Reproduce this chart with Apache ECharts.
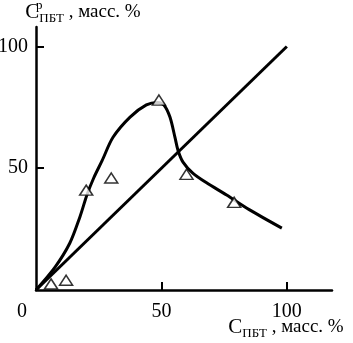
<!DOCTYPE html>
<html>
<head>
<meta charset="utf-8">
<script src="https://cdn.jsdelivr.net/npm/echarts@6/dist/echarts.min.js"></script>
<style>
html, body { margin: 0; padding: 0; background: #fff; }
#chart { width: 353px; height: 343px; }
</style>
</head>
<body>
<div id="chart"></div>
<script>
// measured points (triangles)
var expX = [6, 12, 20, 30, 49, 60, 79];
var expY = [2.5, 4, 41, 46, 78, 47.5, 36];

// fitted curve
var curveX = [0, 7.6, 13.5, 17.5, 20.3, 23, 26.3, 30.7, 37.5, 44, 48.5, 51, 53.4, 55.4, 56.6, 58.6, 62.5, 68, 76, 85, 98];
var curveY = [0, 9.4, 19.3, 30, 39, 46, 53, 62.7, 71, 76, 77, 76, 71, 62.7, 57.4, 52.5, 48, 44, 39, 33, 25.4];

// diagonal y = x
var diagX = [0, 100];
var diagY = [0, 100];

var xTicks = [50, 100];
var xLabels = [0, 50, 100];
var yTicks = [50, 100];

function pairs(xs, ys) {
    var out = [];
    for (var i = 0; i < xs.length; i++) {
        out.push([xs[i], ys[i]]);
    }
    return out;
}

var font = '"Liberation Serif", "Times New Roman", serif';

var myChart = echarts.init(document.getElementById('chart'));

var option = {
    animation: false,
    backgroundColor: '#fff',
    grid: { left: 36, right: 21, top: 27, bottom: 53, outerBoundsMode: 'none', containLabel: false },
    xAxis: {
        type: 'value',
        min: 0,
        max: 118,
        interval: 50,
        splitLine: { show: false },
        axisLine: { lineStyle: { color: '#000', width: 2.5 } },
        axisTick: { inside: true, length: 8, customValues: xTicks, lineStyle: { color: '#000', width: 2 } },
        axisLabel: {
            customValues: xLabels,
            margin: 12,
            fontFamily: font,
            fontSize: 20,
            color: '#000',
            formatter: function (v) {
                return v === 0 ? '{z|0}' : String(v);
            },
            rich: {
                z: { fontFamily: font, fontSize: 20, color: '#000', padding: [0, 28, 0, 0] }
            }
        },
        name: '{c|С}{sub|ПБТ}{t| , масс. %}',
        nameLocation: 'middle',
        nameGap: 24,
        nameMoveOverlap: false,
        nameTextStyle: {
            padding: [0, 0, 0, 204],
            rich: {
                c: { fontFamily: font, fontSize: 21, color: '#000', lineHeight: 26 },
                sub: { fontFamily: font, fontSize: 13, color: '#000', verticalAlign: 'bottom' },
                t: { fontFamily: font, fontSize: 19, color: '#000' }
            }
        }
    },
    yAxis: {
        type: 'value',
        min: 0,
        max: 108,
        interval: 50,
        splitLine: { show: false },
        axisLine: { lineStyle: { color: '#000', width: 2.5 } },
        axisTick: { inside: true, length: 8, customValues: yTicks, lineStyle: { color: '#000', width: 2 } },
        axisLabel: {
            customValues: yTicks,
            margin: 8,
            fontFamily: font,
            fontSize: 20,
            color: '#000'
        },
        name: '{c|С}{sup|р}{sub|ПБТ}{t| , масс. %}',
        nameLocation: 'end',
        nameGap: 2,
        nameMoveOverlap: false,
        nameTextStyle: {
            padding: [0, 0, 0, 94],
            rich: {
                c: { fontFamily: font, fontSize: 21, color: '#000', lineHeight: 26 },
                sup: { fontFamily: font, fontSize: 13, color: '#000', width: 0, verticalAlign: 'top' },
                sub: { fontFamily: font, fontSize: 13, color: '#000', verticalAlign: 'bottom' },
                t: { fontFamily: font, fontSize: 19, color: '#000' }
            }
        }
    },
    series: [
        {
            type: 'line',
            data: pairs(curveX, curveY),
            smooth: 0.3,
            showSymbol: false,
            lineStyle: { color: '#000', width: 3 },
            z: 2
        },
        {
            type: 'line',
            data: pairs(diagX, diagY),
            showSymbol: false,
            lineStyle: { color: '#000', width: 3 },
            z: 2
        },
        {
            type: 'scatter',
            data: pairs(expX, expY),
            symbol: 'triangle',
            symbolSize: [13, 10],
            itemStyle: { color: '#fff', borderColor: '#000', borderWidth: 1.5 },
            z: 3
        }
    ]
};

myChart.setOption(option);
</script>
</body>
</html>
